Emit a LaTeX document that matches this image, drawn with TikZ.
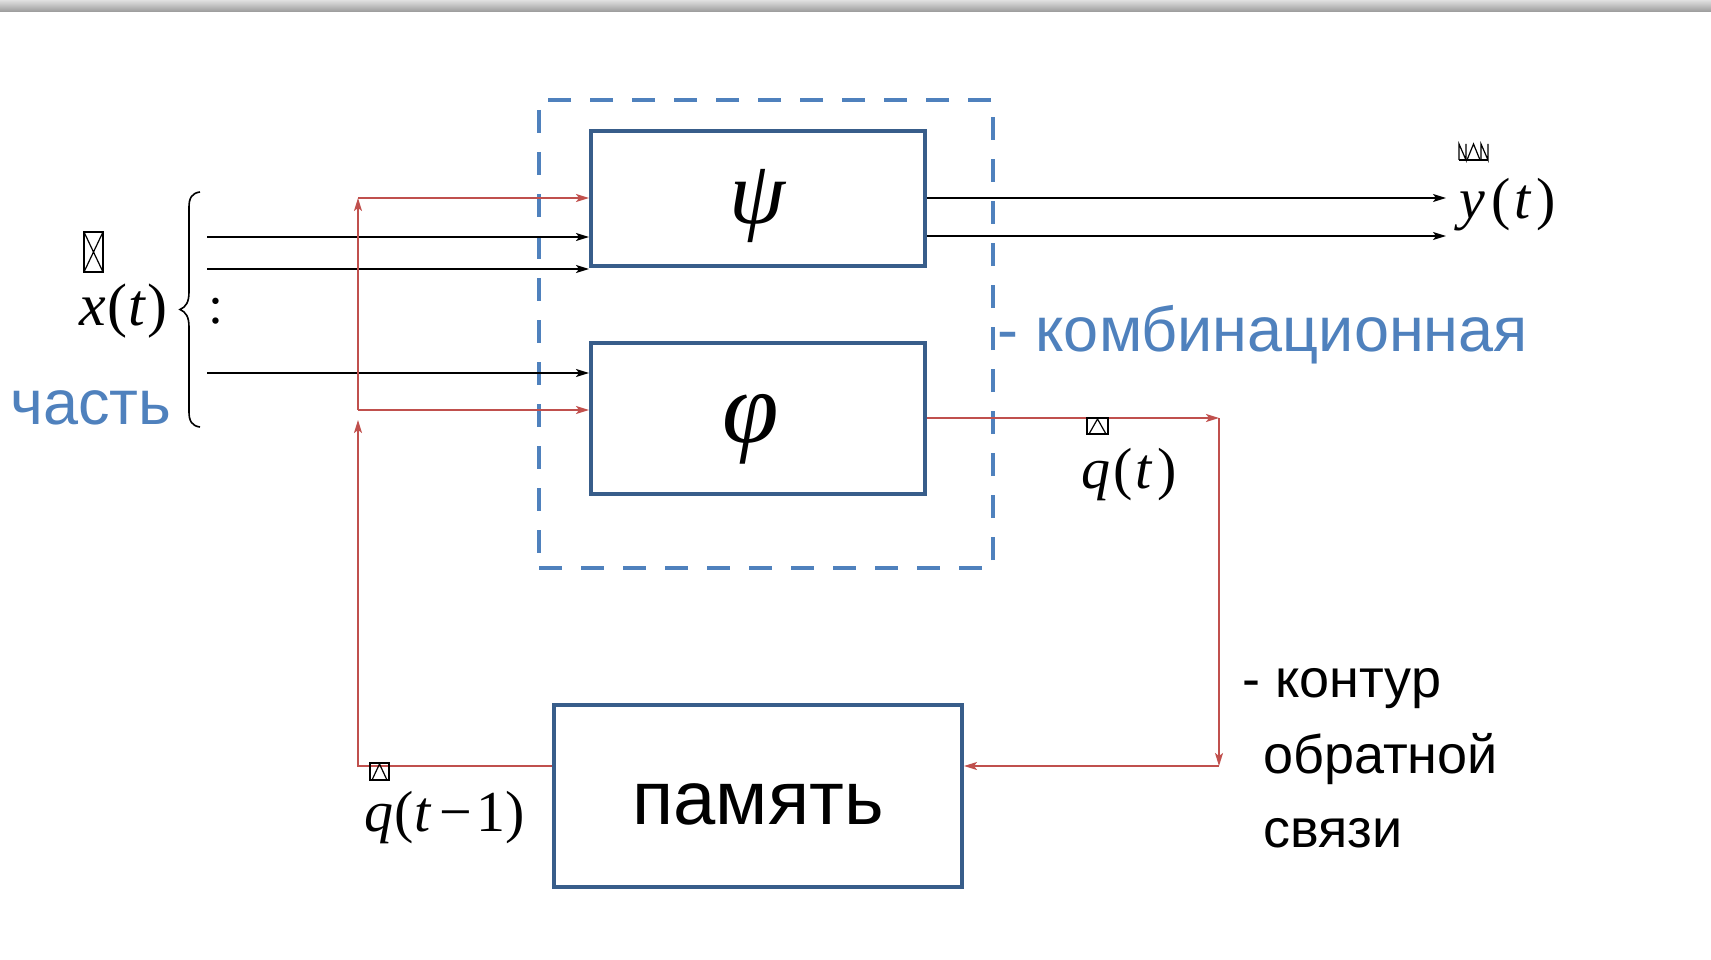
\documentclass[tikz,border=0pt]{standalone}
\usepackage{fontspec}
\setmainfont{Liberation Sans}
\newfontfamily\tnr{Liberation Serif}
\usetikzlibrary{arrows.meta}
\definecolor{dblue}{HTML}{385D8A}
\definecolor{lblue}{HTML}{4F81BD}
\definecolor{fred}{HTML}{C0504D}
\newcommand\fsz[1]{\fontsize{#1}{#1}\selectfont}
\newcommand\mi[1]{{\tnr\itshape #1}}
\newcommand\mr[1]{{\tnr #1}}
\begin{document}
\begin{tikzpicture}[x=1pt,y=-1pt,
  blk/.style={draw=dblue, line width=4pt, inner sep=0pt},
  dbox/.style={draw=lblue, line width=4.5pt, dash pattern=on 23pt off 19pt, inner sep=0pt},
  barrow/.style={draw=black, line width=1.7pt, -{Stealth[length=13pt,width=8pt,inset=3pt]}},
  rarrow/.style={draw=fred, line width=1.7pt, -{Stealth[length=13pt,width=8pt,inset=3pt]}},
  lbl/.style={anchor=base west, inner sep=0pt},
  glyphbox/.style={draw=black, line width=1.2pt}
]
\useasboundingbox (0,0) rectangle (1711,960);
\shade[top color=black!12, bottom color=black!40] (0,0) rectangle (1711,12);

% dashed combinational part
\node[dbox, minimum width=454pt, minimum height=468pt] (comb) at (766,334) {};

% blocks
\node[blk, minimum width=334pt, minimum height=135pt] (psi) at (758,198.5) {\fsz{90}\raisebox{-8pt}[\height][\depth]{\mi{ψ}}\kern2pt};
\node[blk, minimum width=334pt, minimum height=151pt] (phi) at (758,418.5) {\fsz{102}\raisebox{-11pt}[\height][\depth]{\mi{φ}}\kern14pt};
\node[blk, minimum width=408pt, minimum height=182pt] (mem) at (758,796) {\fsz{76}\raisebox{-8pt}[\height][\depth]{память}};

% input coordinates
\coordinate (xin1) at (207,237);
\coordinate (xin2) at (207,269);
\coordinate (xin3) at (207,373);
\draw[barrow] (xin1) -- (xin1 -| psi.west);
\draw[barrow] (xin2) -- (xin2 -| psi.west);
\draw[barrow] (xin3) -- (xin3 -| phi.west);

% feedback into the blocks
\coordinate (fbx) at (358,766);
\coordinate (jb) at (358,420);
\coordinate (jn) at (358,410);
\coordinate (jt) at (358,198);
\draw[rarrow] (mem.west |- fbx) -- (fbx) -- (jb);
\draw[rarrow] (jn) -- (jt);
\draw[rarrow] (jt) -- (jt -| psi.west);
\draw[rarrow] (jn) -- (jn -| phi.west);

% phi output to memory
\coordinate (qc) at (1219,418);
\coordinate (qd) at (1219,766);
\draw[rarrow] (phi.east |- qc) -- (qc);
\draw[rarrow] (qc) -- (qd);
\draw[rarrow] (qd) -- (qd -| mem.east);

% outputs
\coordinate (y1) at (1446,198);
\coordinate (y2) at (1446,236);
\draw[barrow] (psi.east |- y1) -- (y1);
\draw[barrow] (psi.east |- y2) -- (y2);

% brace
\draw[line width=1.6pt] (200,192) .. controls (192,193) and (189,198) .. (189,207) -- (189,292) .. controls (189,302) and (186,307) .. (180,309.5) .. controls (186,312) and (189,317) .. (189,327) -- (189,412) .. controls (189,421) and (192,426) .. (200,427);
\node[inner sep=0pt] (colon) at (216,311.5) {\fsz{54}\mr{:}};

% math labels
\node[lbl] (xt) at (79,325) {\fsz{60}\mi{x}\kern2pt\mr{(}\kern1pt\mi{t}\kern2pt\mr{)}};
\node[lbl] (yt) at (1459,219) {\fsz{58}\mi{y}\kern7pt\mr{(}\kern3pt\mi{t}\kern6pt\mr{)}};
\node[lbl] (qt) at (1081,488) {\fsz{58}\mi{q}\kern3pt\mr{(}\kern3pt\mi{t}\kern6pt\mr{)}};
\node[lbl] (qt1) at (364,831) {\fsz{58}\mi{q}\kern1pt\mr{(}\kern1pt\mi{t}\kern9pt\mr{−}\kern4pt\mr{1}\kern0pt\mr{)}};

% missing-glyph placeholders
\draw[glyphbox] (84,232) rectangle (103,272);
\draw[glyphbox] (84,232) -- (103,272) (103,232) -- (84,272);
\draw[glyphbox] (1459,160) -- (1488,160);
\draw[glyphbox] (1459,160) -- (1459,144) -- (1466,160) -- (1466,144);
\draw[glyphbox] (1467,160) -- (1473.5,144) -- (1480,160);
\draw[glyphbox] (1481,160) -- (1481,144) -- (1488,160) -- (1488,144);
\draw[glyphbox] (1087,418) rectangle (1108,434);
\draw[glyphbox] (1089,434) -- (1097.5,419) -- (1106,434);
\draw[glyphbox] (370,763) rectangle (389,780);
\draw[glyphbox] (372,780) -- (379.5,764) -- (387,780);

% text labels
\node[lbl, text=lblue, font=\fsz{63}] (part) at (10,424) {часть};
\node[lbl, text=lblue, font=\fsz{63}] (combl) at (997,351) {- комбинационная};
\node[lbl, font=\fsz{54}] (fb1) at (1242,697) {- контур};
\node[lbl, font=\fsz{54}] (fb2) at (1263,773) {обратной};
\node[lbl, font=\fsz{54}] (fb3) at (1263,847) {связи};
\end{tikzpicture}
\end{document}
